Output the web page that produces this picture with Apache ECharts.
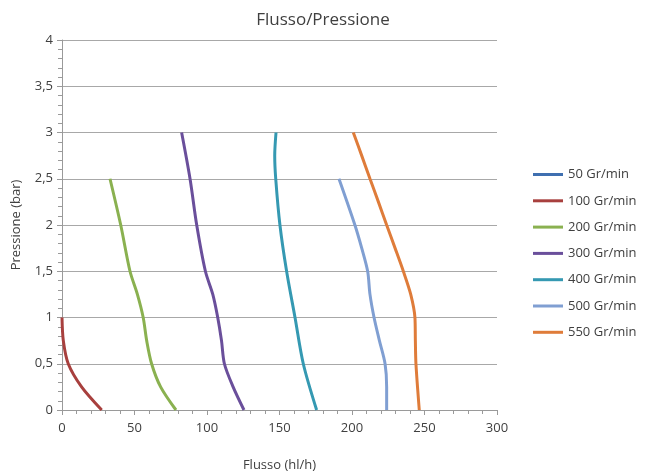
<!DOCTYPE html>
<html><head><meta charset="utf-8">
<script src="https://cdn.jsdelivr.net/npm/echarts@6/dist/echarts.min.js"></script>
<style>html,body{margin:0;padding:0;background:#fff}#c{width:647px;height:471px}</style>
</head><body><div id="c"></div>
<script>
const seriesNames = ['50 Gr/min','100 Gr/min','200 Gr/min','300 Gr/min','400 Gr/min','500 Gr/min','550 Gr/min'];
const colors = ['#3F6FB0','#A8403E','#8AB150','#6A4F9B','#3599B2','#809FD2','#DF7C3A'];
const flow50 = [];
const flow100 = [[27.4,0],[13.5,0.25],[4.3,0.5],[0.9,0.75],[0,1]];
const flow200 = [[78.6,0],[68,0.25],[61.8,0.5],[58.4,0.75],[56,1],[52,1.25],[46.9,1.5],[40.5,2],[33.1,2.5]];
const flow300 = [[125.5,0],[118,0.25],[112,0.5],[110,0.75],[107.4,1],[104,1.25],[98.9,1.5],[92.9,2],[88.3,2.5],[82.5,3]];
const flow400 = [[175.6,0],[166.4,0.5],[160.7,1],[154.9,1.5],[150.3,2],[147.4,2.5],[146.7,2.75],[147.6,3]];
const flow500 = [[223.9,0],[223.9,0.25],[222.8,0.5],[218.9,0.75],[215.2,1],[212.4,1.25],[210.8,1.5],[206.7,1.75],[202,2],[191,2.5]];
const flow550 = [[246.4,0],[244.1,0.5],[243.7,0.75],[243.4,1],[240.5,1.25],[235.4,1.5],[229.7,1.75],[223.9,2],[218.2,2.25],[212.4,2.5],[206.7,2.75],[200.9,3]];
const allData = [flow50,flow100,flow200,flow300,flow400,flow500,flow550];
const font = 'Open Sans';
const txt = '#404040';
const chart = echarts.init(document.getElementById('c'));
chart.setOption({
  animation:false,
  color: colors,
  textStyle:{fontFamily:font},
  title:{text:'Flusso/Pressione',left:318,top:7,textAlign:'center',textStyle:{fontFamily:font,fontSize:17,fontWeight:'normal',color:txt}},
  grid:{left:62,right:150,top:40,bottom:61,containLabel:false,outerBoundsMode:'none'},
  legend:{orient:'vertical',left:528,top:163,itemWidth:30,itemHeight:14,itemGap:13.3,
    icon:'path://M0,0 L30,0 L30,3 L0,3 Z',
    textStyle:{fontFamily:font,fontSize:13,color:txt},data:seriesNames},
  xAxis:{type:'value',min:0,max:300,interval:50,name:'Flusso (hl/h)',nameLocation:'middle',nameGap:49,
    nameTextStyle:{fontFamily:font,fontSize:13,color:txt},
    axisLine:{onZero:false,lineStyle:{color:'#9a9a9a'}},
    axisTick:{show:true,length:5,inside:false,lineStyle:{color:'#9a9a9a'}},
    minorTick:{show:true,splitNumber:5,length:4,lineStyle:{color:'#9a9a9a'}},
    axisLabel:{fontFamily:font,fontSize:13,color:txt,margin:12},
    splitLine:{show:false}},
  yAxis:{type:'value',min:0,max:4,interval:0.5,name:'Pressione (bar)',nameLocation:'middle',nameGap:39,
    nameTextStyle:{fontFamily:font,fontSize:13,color:txt},
    axisLine:{show:true,lineStyle:{color:'#9a9a9a'}},
    axisTick:{show:true,length:5,lineStyle:{color:'#9a9a9a'}},
    minorTick:{show:true,splitNumber:5,length:4,lineStyle:{color:'#9a9a9a'}},
    axisLabel:{fontFamily:font,fontSize:13,color:txt,margin:9,formatter:v=>String(v).replace('.',',')},
    splitLine:{show:true,lineStyle:{color:'#a8a8a8',width:1}}},
  series: seriesNames.map((n,i)=>({name:n,type:'line',data:allData[i],smooth:0.3,showSymbol:false,symbol:'none',
    lineStyle:{width:3,color:colors[i]},itemStyle:{color:colors[i]}}))
});
</script></body></html>
